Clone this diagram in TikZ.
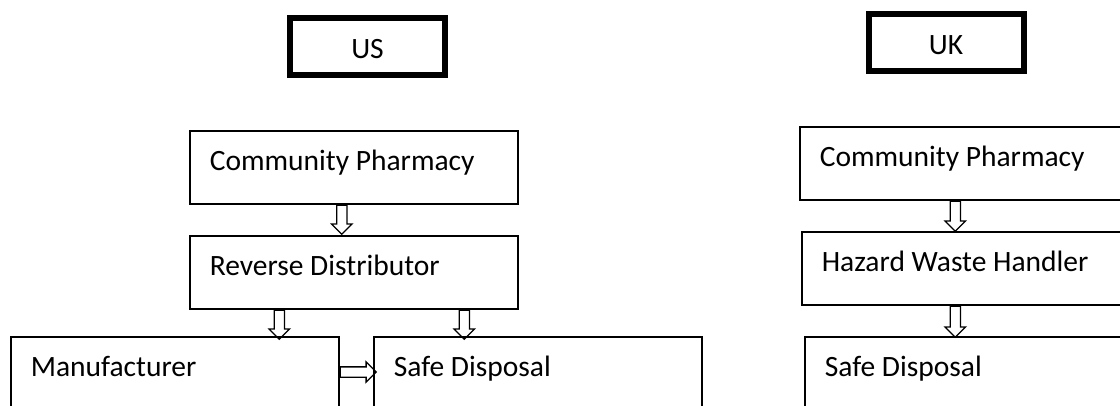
\documentclass[tikz,border=0pt]{standalone}
\usepackage{fontspec}
\setmainfont{Carlito}
\usepackage{tikz}
\usetikzlibrary{shapes.arrows}
\newcommand{\BW}{328}  % width of every stage box
\newcommand{\BH}{73}   % height of the short stage boxes

\begin{document}
\begin{tikzpicture}[x=1pt,y=-1pt,
    stage/.style={draw, line width=1.6pt, rectangle, anchor=north west,
      inner xsep=20pt, inner ysep=0pt, text width=\BW pt-40pt, align=flush left,
      text height=40pt, text depth=\BH pt-40pt,
      font=\fontsize{29.5}{34}\selectfont},
    region/.style={draw, line width=6pt, rectangle, inner sep=0pt,
      minimum width=155pt, minimum height=57pt,
      text height=24pt, text depth=0pt,
      font=\fontsize{29.5}{34}\selectfont},
    hollow/.style={draw, line width=1.3pt, single arrow, anchor=tail,
      inner sep=0pt, text height=4.5pt, text depth=4.5pt,
      single arrow head extend=5pt, single arrow head indent=0pt}]
            \useasboundingbox (0,0) rectangle (1120,406);
            \clip (0,0) rectangle (1120,406);

            % country headings
            \path (367.5,46.5) node (US) [region] {US};
            \path (946,43) node (UK) [region] {UK};

            % US chain
            \path (189,130) node (cpUS) [stage] {Community Pharmacy};
            \path (189,235) node (rdUS) [stage] {Reverse Distributor};
            \path (10,336) node (mfUS) [stage, text depth=100pt] {Manufacturer};
            \path (373,336) node (sdUS) [stage, text depth=100pt] {Safe Disposal};

            % UK chain
            \path (799,126) node (cpUK) [stage] {Community Pharmacy};
            \path (801,231) node (hwUK) [stage] {Hazard Waste Handler};
            \path (804,336) node (sdUK) [stage, text depth=100pt] {Safe Disposal};

            % hollow arrows between the boxes
            \path (cpUS.south) ++(-12,0) node (a1) [hollow, rotate=-90, minimum height=29pt] {};
            \path (rdUS.south) ++(-74.5,0) node (a2) [hollow, rotate=-90, minimum height=29pt] {};
            \path (rdUS.south) ++(110.5,0) node (a3) [hollow, rotate=-90, minimum height=29pt] {};
            \path (mfUS.north east) ++(0,36) node (a4) [hollow, minimum height=36pt] {};
            \path (cpUK.south) ++(-8.5,0) node (a5) [hollow, rotate=-90, minimum height=30pt] {};
            \path (hwUK.south) ++(-10.5,0) node (a6) [hollow, rotate=-90, minimum height=31pt] {};

\end{tikzpicture}
\end{document}
